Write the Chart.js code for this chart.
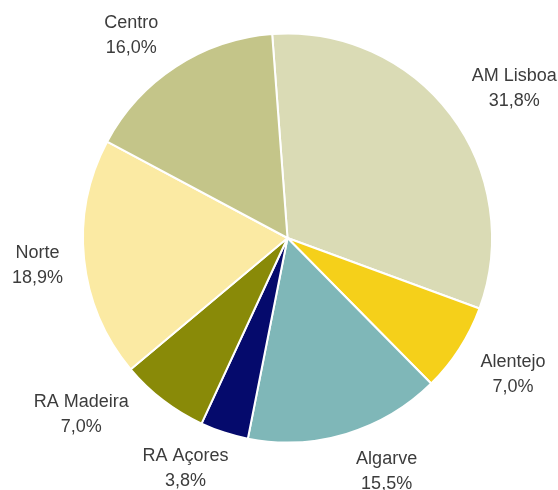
<!DOCTYPE html>
<html>
<head>
<meta charset="utf-8">
<script src="https://cdn.jsdelivr.net/npm/chart.js@4.4.0/dist/chart.umd.min.js"></script>
<style>
  html, body { margin: 0; padding: 0; background: #fff; }
  .chart-box { width: 558px; height: 490px; position: relative; }
</style>
</head>
<body>
<div class="chart-box"><canvas id="pie-chart"></canvas></div>
<script>
const regions = ["AM Lisboa", "Alentejo", "Algarve", "RA Açores", "RA Madeira", "Norte", "Centro"];
const shares = [31.8, 7.0, 15.5, 3.8, 7.0, 18.9, 16.0];
const sliceColors = ["#DADBB5", "#F5D01A", "#7FB7B8", "#050A6C", "#898A08", "#FBEAA3", "#C4C589"];
// label placement: distance of the label centre beyond the pie edge, and a small angle nudge (deg)
const labelDist = [67, 59, 49, 48, 67, 47, 51];
const labelTurn = [3.7, -1.6, -6.3, 5.8, 12, -0.4, -4.6];

const fmt = (v) => v.toFixed(1).replace(".", ",") + "%";

const outsideLabels = {
  id: "outsideLabels",
  afterDatasetsDraw(chart) {
    const ctx = chart.ctx;
    const meta = chart.getDatasetMeta(0);
    ctx.save();
    ctx.font = "18px 'Liberation Sans', Arial, sans-serif";
    ctx.fillStyle = "#3c3c3c";
    ctx.textAlign = "center";
    ctx.textBaseline = "middle";
    const lineH = 25;
    meta.data.forEach((arc, i) => {
      const { x, y, startAngle, endAngle, outerRadius } = arc.getProps(
        ["x", "y", "startAngle", "endAngle", "outerRadius"], true);
      const mid = (startAngle + endAngle) / 2 + (labelTurn[i] * Math.PI) / 180;
      const d = outerRadius + labelDist[i];
      const bx = x + d * Math.cos(mid);
      const by = y + d * Math.sin(mid);
      ctx.fillText(regions[i], bx, by - lineH / 2);
      ctx.fillText(fmt(shares[i]), bx, by + lineH / 2);
    });
    ctx.restore();
  },
};

new Chart("pie-chart", {
  type: "pie",
  data: {
    labels: regions,
    datasets: [
      {
        data: shares,
        backgroundColor: sliceColors,
        borderColor: "#ffffff",
        borderWidth: 2,
      },
    ],
  },
  options: {
    responsive: true,
    maintainAspectRatio: false,
    animation: false,
    rotation: -4.3,
    layout: {
      padding: { top: 32, bottom: 46, left: 82, right: 65 },
    },
    plugins: {
      legend: { display: false },
      tooltip: { enabled: false },
    },
  },
  plugins: [outsideLabels],
});
</script>
</body>
</html>
